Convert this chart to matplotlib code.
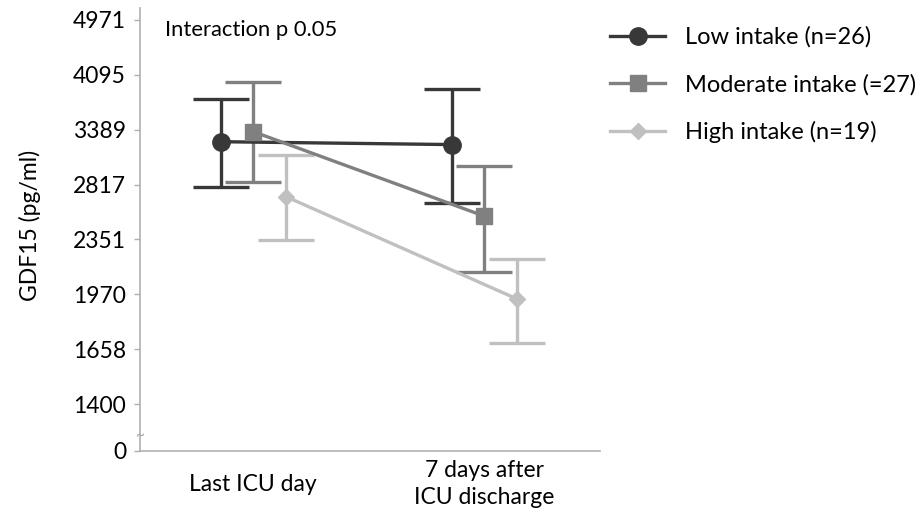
import numpy as np
import matplotlib
matplotlib.use("Agg")
import matplotlib.pyplot as plt

# data (pg/ml)
categories = ["Last ICU day", "7 days after\nICU discharge"]
groups = ["Low intake (n=26)", "Moderate intake (=27)", "High intake (n=19)"]
low_mean = [3263, 3233]
low_lo = [2800, 2664]
low_hi = [3785, 3915]
mod_mean = [3368, 2548]
mod_lo = [2838, 2124]
mod_hi = [4005, 3014]
high_mean = [2715, 1944]
high_lo = [2345, 1692]
high_hi = [3120, 2218]

ytick_vals = [0, 1400, 1658, 1970, 2351, 2817, 3389, 4095, 4971]

# axis is spaced evenly by tick, not linear in value
grid_v = np.array(ytick_vals + [4971 + 876], dtype=float)
grid_i = np.array([-0.855, 0, 1, 2, 3, 4, 5, 6, 7, 8])

def fwd(v):
    return np.interp(v, grid_v, grid_i)

def inv(i):
    return np.interp(i, grid_i, grid_v)

plt.rcParams['font.family'] = ['Lato', 'DejaVu Sans']
fs = 16.5

fig = plt.figure(figsize=(9.22, 5.13), dpi=100)
ax = fig.add_axes([0.1518, 0.1209, 0.499, 0.8635])
ax.set_yscale('function', functions=(fwd, inv))

colors = ["#383838", "#808080", "#c0c0c0"]
markers = ["o", "s", "D"]
msizes = [12.5, 11, 8.5]
offsets = [-0.14, 0.0, 0.14]
means = [low_mean, mod_mean, high_mean]
los = [low_lo, mod_lo, high_lo]
his = [low_hi, mod_hi, high_hi]

x = np.arange(len(categories))
handles = []
for k in range(3):
    xs = x + offsets[k]
    m = np.array(means[k])
    err = [m - np.array(los[k]), np.array(his[k]) - m]
    ax.errorbar(xs, m, yerr=err, fmt='none', ecolor=colors[k], elinewidth=2.4,
                capsize=20, capthick=2.4, zorder=2 + k)
    h, = ax.plot(xs, m, color=colors[k], lw=2.4, marker=markers[k], ms=msizes[k],
                 mec=colors[k], mfc=colors[k], zorder=5 + k, label=groups[k])
    handles.append(h)

ax.set_xlim(-0.49, 1.5)
ax.set_ylim(0, 5160)
ax.set_yticks(ytick_vals)
ax.set_yticklabels([str(v) for v in ytick_vals])
ax.yaxis.set_minor_locator(matplotlib.ticker.NullLocator())
ax.set_xticks(x)
ax.set_xticklabels(categories, fontsize=fs, linespacing=1.35, va='center')
ax.tick_params(axis='x', length=0, pad=24)
ax.tick_params(axis='y', labelsize=fs, length=4, color="#b0b0b0", width=1, pad=6)

for s in ['top', 'right']:
    ax.spines[s].set_visible(False)
for s in ['left', 'bottom']:
    ax.spines[s].set_color("#b0b0b0")
    ax.spines[s].set_linewidth(1.2)

ax.set_ylabel("GDF15 (pg/ml)", fontsize=fs)
ax.yaxis.set_label_coords(-0.215, 0.51)

# axis break mark
ax.text(0.0, 0.034, "~", transform=ax.transAxes, ha='center', va='center',
        fontsize=11, color="#a0a0a0")

ax.text(0.054, 0.95, "Interaction p 0.05", transform=ax.transAxes,
        ha='left', va='center', fontsize=15.8)

fig.legend(handles=handles, loc='upper left', bbox_to_anchor=(0.639, 0.99),
           frameon=False, fontsize=17, handlelength=2.3, handletextpad=0.85,
           labelspacing=1.1)

fig.savefig("out.png", dpi=100)
